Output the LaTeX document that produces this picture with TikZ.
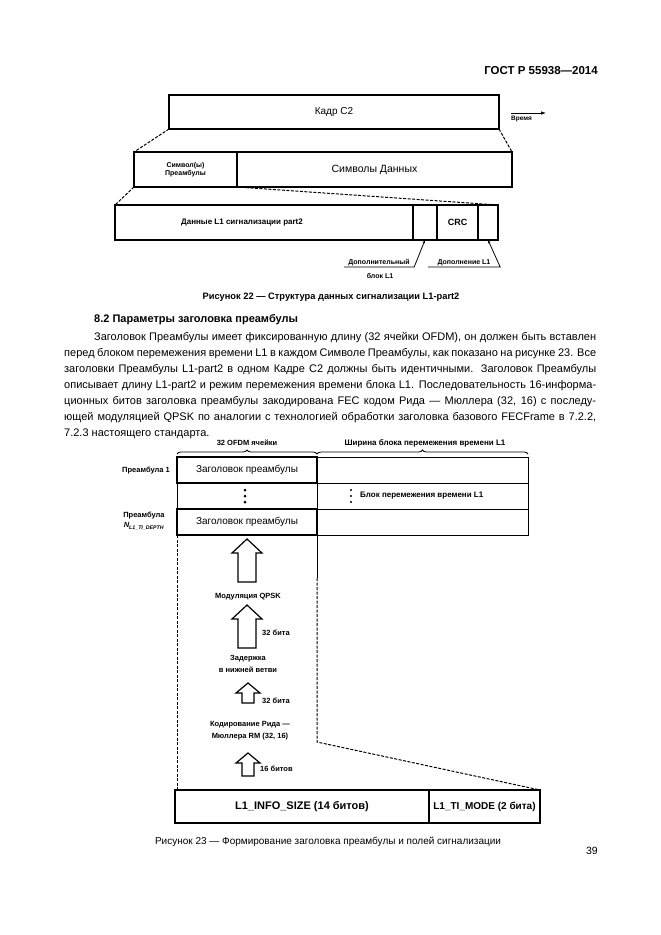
\documentclass[tikz,border=0pt]{standalone}
\usepackage{fontspec}
\setmainfont{Liberation Sans}
\usetikzlibrary{arrows.meta,decorations.pathreplacing}
\newcommand\blkarrow[6]{% cx, tip, headbase, bottom, shafthalf, headhalf
  \draw[line width=1.2pt, line join=miter, fill=white] (#1,#2) -- (#1+#6,#3) -- (#1+#5,#3) -- (#1+#5,#4) -- (#1-#5,#4) -- (#1-#5,#3) -- (#1-#6,#3) -- cycle;}
\begin{document}
\begin{tikzpicture}[x=1pt,y=-1pt,
  box/.style={draw, line width=1.4pt, inner sep=0pt, outer sep=0pt},
  hbox/.style={draw, line width=1.9pt, inner sep=0pt, outer sep=0pt},
  thinbox/.style={draw, line width=0.8pt, inner sep=0pt, outer sep=0pt},
  lbl/.style={inner sep=0pt, font=\bfseries\fontsize{7.5}{12}\selectfont, align=center},
  body/.style={anchor=base west, inner sep=0pt, font=\fontsize{11}{16}\selectfont},
  proj/.style={line width=1pt, dash pattern=on 3pt off 1.5pt},
  leader/.style={line width=0.8pt},
  brc/.style={decorate, decoration={brace, amplitude=4pt}, line width=0.8pt},
]
\fill[white] (0,0) rectangle (661,935);
\useasboundingbox (0,0) rectangle (661,935);

% page header
\node[anchor=base east, inner sep=0pt, font=\bfseries\fontsize{11.5}{13}\selectfont] (hdr) at (598,74) {ГОСТ Р 55938—2014};

% ---------- Figure 22 ----------
\node[box, minimum width=330pt, minimum height=34pt, font=\fontsize{10}{11}\selectfont] (frame) at (334,112) {Кадр C2};
\coordinate (ta) at (511,113);
\coordinate (tb) at (546,113);
\draw[line width=0.7pt, -{Latex[length=5pt,width=3.5pt]}] (ta) -- (tb);
\node[lbl, font=\bfseries\fontsize{6.5}{8}\selectfont, anchor=north west] (time) at (511,116) {Время};

\node[box, align=center, font=\bfseries\fontsize{7}{8.5}\selectfont, minimum width=103pt, minimum height=35pt] (pre) at (185.5,169.5) {Символ(ы)\\Преамбулы};
\node[box, minimum width=275pt, minimum height=35pt, font=\fontsize{10.5}{12}\selectfont] (data) at (374.5,169.5) {Символы Данных};
\draw[proj] (frame.south west) -- (pre.north west);
\draw[proj] (frame.south east) -- (data.north east);

\node[box, minimum width=298pt, minimum height=35pt] (l1) at (264,222.5) {};
\node[inner sep=0pt, font=\bfseries\fontsize{8}{10}\selectfont] (l1txt) at (242,222.5) {Данные L1 сигнализации part2};
\node[box, minimum width=24pt, minimum height=35pt] (pad1) at (425,222.5) {};
\node[box, minimum width=41pt, minimum height=35pt, font=\bfseries\fontsize{9}{10}\selectfont] (crc) at (457.5,222.5) {CRC};
\node[box, minimum width=20pt, minimum height=35pt] (pad2) at (488,222.5) {};
\draw[proj] (pre.south west) -- (l1.north west);
\draw[proj] (pre.south east) -- (pad2.north east);

\node[lbl, font=\bfseries\fontsize{7}{8}\selectfont, anchor=south, minimum width=70pt, inner ysep=1pt] (ext) at (379,267) {Дополнительный};
\node[lbl, font=\bfseries\fontsize{7}{8}\selectfont, anchor=base] (ext2) at (380,278) {блок L1};
\node[lbl, font=\bfseries\fontsize{7}{8}\selectfont, anchor=south, minimum width=72pt, inner ysep=1pt] (padl) at (464,267) {Дополнение L1};
\draw[leader, -{Stealth[length=3.5pt,width=2.5pt]}] (ext.south west) -- (ext.south east) -- (pad1.south);
\draw[leader, -{Stealth[length=3.5pt,width=2.5pt]}] (padl.south west) -- (padl.south east) -- (pad2.south);

\node[anchor=base, inner sep=0pt, font=\bfseries\fontsize{9.3}{11}\selectfont] (cap22) at (331,299) {Рисунок 22 — Структура данных сигнализации L1-part2};

% ---------- Section text ----------
\node[body, font=\bfseries\fontsize{11}{13}\selectfont] (sec) at (94,322) {8.2 Параметры заголовка преамбулы};
\node[body] (p1) at (94,340) {\makebox[502pt][s]{Заголовок Преамбулы имеет фиксированную длину (32 ячейки OFDM), он должен быть вставлен}};
\node[body] (p2) at (64,356) {\makebox[532pt][s]{перед блоком перемежения времени L1 в каждом Символе Преамбулы, как показано на рисунке 23. Все}};
\node[body] (p3) at (64,372) {\makebox[532pt][s]{заголовки Преамбулы L1-part2 в одном Кадре С2 должны быть идентичными. Заголовок Преамбулы}};
\node[body] (p4) at (64,388) {\makebox[532pt][s]{описывает длину L1-part2 и режим перемежения времени блока L1. Последовательность 16-информа-}};
\node[body] (p5) at (64,404) {\makebox[532pt][s]{ционных битов заголовка преамбулы закодирована FEC кодом Рида — Мюллера (32, 16) с последу-}};
\node[body] (p6) at (64,420) {\makebox[532pt][s]{ющей модуляцией QPSK по аналогии с технологией обработки заголовка базового FECFrame в 7.2.2,}};
\node[body] (p7) at (64,436) {7.2.3 настоящего стандарта.};

% ---------- Figure 23 ----------
\node[lbl, anchor=base, font=\bfseries\fontsize{7.5}{9}\selectfont] (w1) at (247,445) {32 OFDM ячейки};
\node[lbl, anchor=base, font=\bfseries\fontsize{8}{9}\selectfont] (w2) at (425,445) {Ширина блока перемежения времени L1};
\coordinate (b1) at (177,454);
\coordinate (b2) at (317,454);
\coordinate (b3) at (528,454);
\draw[brc] (b1) -- (b2);
\draw[brc] (b2) -- (b3);

\node[thinbox, minimum width=211pt, minimum height=26pt] (r1) at (422.5,470) {};
\node[thinbox, minimum width=140pt, minimum height=26pt] (m) at (247,496) {};
\node[thinbox, minimum width=211pt, minimum height=26pt] (r2) at (422.5,496) {};
\node[thinbox, minimum width=211pt, minimum height=26pt] (r3) at (422.5,522) {};
\node[hbox, minimum width=140pt, minimum height=26pt, font=\fontsize{10}{12}\selectfont] (h1) at (247,470) {Заголовок преамбулы};
\node[hbox, minimum width=140pt, minimum height=26pt, font=\fontsize{10}{12}\selectfont] (h2) at (247,522) {Заголовок преамбулы};
\foreach \yy in {490,496,502} {
  \fill (245,\yy) circle (1.5pt);
  \fill (351,\yy) circle (1.2pt);
}
\node[lbl, anchor=west, font=\bfseries\fontsize{8}{9}\selectfont] (blk) at (360,496) {Блок перемежения времени L1};
\node[lbl, anchor=east] (pa1) at (170,471) {Преамбула 1};
\node[lbl, font=\bfseries\fontsize{7.5}{10}\selectfont] (pa2) at (144,521) {Преамбула\\{\itshape N}\textsubscript{\itshape L1\_TI\_DEPTH}};

\node[hbox, minimum width=254pt, minimum height=33pt, font=\bfseries\fontsize{11}{12}\selectfont] (inf) at (302,806.5) {L1\_INFO\_SIZE (14 битов)};
\node[hbox, minimum width=111pt, minimum height=33pt, font=\bfseries\fontsize{10}{12}\selectfont] (mode) at (484.5,806.5) {L1\_TI\_MODE (2 бита)};

\draw[proj] (h2.south west) -- (h2.south west |- inf.north);
\coordinate (ks) at (317,578);
\coordinate (kink) at (317,742);
\draw[line width=1pt] (h2.south east) -- (ks);
\draw[proj] (ks) -- (kink) -- (mode.north east);

\blkarrow{247}{539}{553}{582}{9}{15}
\blkarrow{247}{605}{619}{648}{9}{15}
\blkarrow{248}{683}{693}{703}{6}{12}
\blkarrow{248}{753}{763}{776}{6}{12}

\node[lbl] (qpsk) at (248,597) {Модуляция QPSK};
\node[lbl, anchor=west] (b32a) at (262,633) {32 бита};
\node[lbl] (delay) at (248,664) {Задержка\\в нижней ветви};
\node[lbl, anchor=west] (b32b) at (262,701) {32 бита};
\node[lbl] (rm) at (250,731) {Кодирование Рида —\\Мюллера RM (32, 16)};
\node[lbl, anchor=west] (b16) at (260,769) {16 битов};

\node[anchor=base, inner sep=0pt, font=\fontsize{10}{12}\selectfont] (cap23) at (328,844) {Рисунок 23 — Формирование заголовка преамбулы и полей сигнализации};
\node[anchor=base east, inner sep=0pt, font=\fontsize{10.5}{12}\selectfont] (pg) at (598,854) {39};
\end{tikzpicture}
\end{document}
